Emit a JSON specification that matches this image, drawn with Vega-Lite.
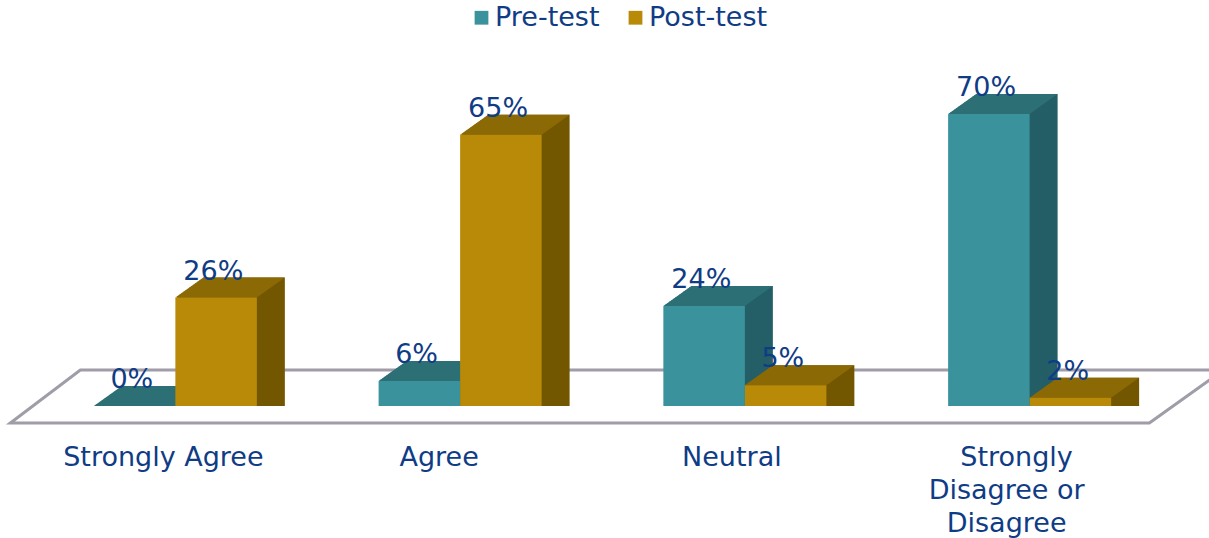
{"$schema":"https://vega.github.io/schema/vega-lite/v6.json","width":1139,"height":292,"autosize":"none","padding":{"left":33,"top":114,"right":37,"bottom":132},"background":"white","config":{"view":{"stroke":null}},
"data":{"values":[{"category":"Strongly Agree","series":"Pre-test","value":0},{"category":"Strongly Agree","series":"Post-test","value":0.26},{"category":"Agree","series":"Pre-test","value":0.06},{"category":"Agree","series":"Post-test","value":0.65},{"category":"Neutral","series":"Pre-test","value":0.24},{"category":"Neutral","series":"Post-test","value":0.05},{"category":"Strongly Disagree or Disagree","series":"Pre-test","value":0.7},{"category":"Strongly Disagree or Disagree","series":"Post-test","value":0.02}]},
"resolve":{"scale":{"xOffset":"independent"}},
"encoding":{"x":{"field":"category","type":"nominal","sort":["Strongly Agree","Agree","Neutral","Strongly Disagree or Disagree"],"scale":{"paddingInner":0.4275,"paddingOuter":0.2137},"axis":{"title":null,"domain":false,"ticks":false,"labelAngle":0,"labelFont":"DejaVu Sans","labelFontSize":27,"labelColor":"#0f3c85","labelPadding":38,"labelLimit":0,"labelOverlap":false,"labelBound":false,"labelFlush":false,"labelLineHeight":33,"labelExpr":"datum.label=='Strongly Disagree or Disagree'?['\u2800Strongly','Disagree or','Disagree']:datum.label","labelOffset":{"expr":"datum.label=='Strongly Agree'?-12:datum.label=='Agree'?-21:datum.label=='Neutral'?-13:-23"}}},"y":{"field":"value","type":"quantitative","stack":null,"scale":{"domain":[0,0.7],"nice":false},"axis":null},"xOffset":{"field":"series","type":"nominal","sort":["Pre-test","Post-test"],"scale":{"paddingInner":0,"paddingOuter":0}}},
"layer":[
{"mark":{"type":"point","shape":"M-653 17L-583 -36L560 -36L486 17Z","size":4,"filled":false,"stroke":"#a09ca8","strokeWidth":3,"opacity":1},"transform":[{"filter":"datum.category=='Neutral'&&datum.series=='Pre-test'"}],"encoding":{"xOffset":{"value":0},"y":{"datum":0,"type":"quantitative"}}},
{"mark":{"type":"bar","yOffset":-20,"y2Offset":-20},"encoding":{"xOffset":{"field":"series","type":"nominal","sort":["Pre-test","Post-test"],"scale":{"paddingInner":0,"paddingOuter":0,"range":[28,191]}},"color":{"condition":{"test":"datum.series=='Pre-test'","value":"#245e66"},"value":"#735700"}}},
{"mark":{"type":"bar","yOffset":-18.57,"y2Offset":-18.57},"encoding":{"xOffset":{"field":"series","type":"nominal","sort":["Pre-test","Post-test"],"scale":{"paddingInner":0,"paddingOuter":0,"range":[26,189]}},"color":{"condition":{"test":"datum.series=='Pre-test'","value":"#245e66"},"value":"#735700"}}},
{"mark":{"type":"bar","yOffset":-17.14,"y2Offset":-17.14},"encoding":{"xOffset":{"field":"series","type":"nominal","sort":["Pre-test","Post-test"],"scale":{"paddingInner":0,"paddingOuter":0,"range":[24,187]}},"color":{"condition":{"test":"datum.series=='Pre-test'","value":"#245e66"},"value":"#735700"}}},
{"mark":{"type":"bar","yOffset":-15.71,"y2Offset":-15.71},"encoding":{"xOffset":{"field":"series","type":"nominal","sort":["Pre-test","Post-test"],"scale":{"paddingInner":0,"paddingOuter":0,"range":[22,185]}},"color":{"condition":{"test":"datum.series=='Pre-test'","value":"#245e66"},"value":"#735700"}}},
{"mark":{"type":"bar","yOffset":-14.29,"y2Offset":-14.29},"encoding":{"xOffset":{"field":"series","type":"nominal","sort":["Pre-test","Post-test"],"scale":{"paddingInner":0,"paddingOuter":0,"range":[20,183]}},"color":{"condition":{"test":"datum.series=='Pre-test'","value":"#245e66"},"value":"#735700"}}},
{"mark":{"type":"bar","yOffset":-12.86,"y2Offset":-12.86},"encoding":{"xOffset":{"field":"series","type":"nominal","sort":["Pre-test","Post-test"],"scale":{"paddingInner":0,"paddingOuter":0,"range":[18,181]}},"color":{"condition":{"test":"datum.series=='Pre-test'","value":"#245e66"},"value":"#735700"}}},
{"mark":{"type":"bar","yOffset":-11.43,"y2Offset":-11.43},"encoding":{"xOffset":{"field":"series","type":"nominal","sort":["Pre-test","Post-test"],"scale":{"paddingInner":0,"paddingOuter":0,"range":[16,179]}},"color":{"condition":{"test":"datum.series=='Pre-test'","value":"#245e66"},"value":"#735700"}}},
{"mark":{"type":"bar","yOffset":-10,"y2Offset":-10},"encoding":{"xOffset":{"field":"series","type":"nominal","sort":["Pre-test","Post-test"],"scale":{"paddingInner":0,"paddingOuter":0,"range":[14,177]}},"color":{"condition":{"test":"datum.series=='Pre-test'","value":"#245e66"},"value":"#735700"}}},
{"mark":{"type":"bar","yOffset":-8.57,"y2Offset":-8.57},"encoding":{"xOffset":{"field":"series","type":"nominal","sort":["Pre-test","Post-test"],"scale":{"paddingInner":0,"paddingOuter":0,"range":[12,175]}},"color":{"condition":{"test":"datum.series=='Pre-test'","value":"#245e66"},"value":"#735700"}}},
{"mark":{"type":"bar","yOffset":-7.14,"y2Offset":-7.14},"encoding":{"xOffset":{"field":"series","type":"nominal","sort":["Pre-test","Post-test"],"scale":{"paddingInner":0,"paddingOuter":0,"range":[10,173]}},"color":{"condition":{"test":"datum.series=='Pre-test'","value":"#245e66"},"value":"#735700"}}},
{"mark":{"type":"bar","yOffset":-5.71,"y2Offset":-5.71},"encoding":{"xOffset":{"field":"series","type":"nominal","sort":["Pre-test","Post-test"],"scale":{"paddingInner":0,"paddingOuter":0,"range":[8,171]}},"color":{"condition":{"test":"datum.series=='Pre-test'","value":"#245e66"},"value":"#735700"}}},
{"mark":{"type":"bar","yOffset":-4.29,"y2Offset":-4.29},"encoding":{"xOffset":{"field":"series","type":"nominal","sort":["Pre-test","Post-test"],"scale":{"paddingInner":0,"paddingOuter":0,"range":[6,169]}},"color":{"condition":{"test":"datum.series=='Pre-test'","value":"#245e66"},"value":"#735700"}}},
{"mark":{"type":"bar","yOffset":-2.86,"y2Offset":-2.86},"encoding":{"xOffset":{"field":"series","type":"nominal","sort":["Pre-test","Post-test"],"scale":{"paddingInner":0,"paddingOuter":0,"range":[4,167]}},"color":{"condition":{"test":"datum.series=='Pre-test'","value":"#245e66"},"value":"#735700"}}},
{"mark":{"type":"bar","yOffset":-1.43,"y2Offset":-1.43},"encoding":{"xOffset":{"field":"series","type":"nominal","sort":["Pre-test","Post-test"],"scale":{"paddingInner":0,"paddingOuter":0,"range":[2,165]}},"color":{"condition":{"test":"datum.series=='Pre-test'","value":"#245e66"},"value":"#735700"}}},
{"mark":{"type":"point","shape":"M0 0L81.5 0L109.5 -20L28 -20Z","size":4,"filled":true,"opacity":1},"encoding":{"xOffset":{"field":"series","type":"nominal","sort":["Pre-test","Post-test"],"scale":{"paddingInner":0,"paddingOuter":0,"range":[0,81.5]}},"color":{"condition":{"test":"datum.series=='Pre-test'","value":"#2c6f75"},"value":"#8b6a05"}}},
{"mark":{"type":"bar"},"encoding":{"color":{"field":"series","type":"nominal","sort":["Pre-test","Post-test"],"scale":{"domain":["Pre-test","Post-test"],"range":["#3a929c","#b98a07"]},"legend":{"title":null,"orient":"none","legendX":435,"legendY":-110,"direction":"horizontal","columns":2,"symbolType":"square","symbolSize":190,"symbolStrokeWidth":0,"labelFont":"DejaVu Sans","labelFontSize":27,"labelColor":"#0f3c85","columnPadding":22,"labelOffset":0}}}},
{"mark":{"type":"text","font":"DejaVu Sans","fontSize":27,"color":"#0f3c85","dx":38,"dy":-26,"baseline":"middle"},"encoding":{"xOffset":{"field":"series","type":"nominal","sort":["Pre-test","Post-test"],"scale":{"paddingInner":0,"paddingOuter":0,"range":[0,81.5]}},"text":{"field":"value","type":"quantitative","format":".0%"}}}
]}
